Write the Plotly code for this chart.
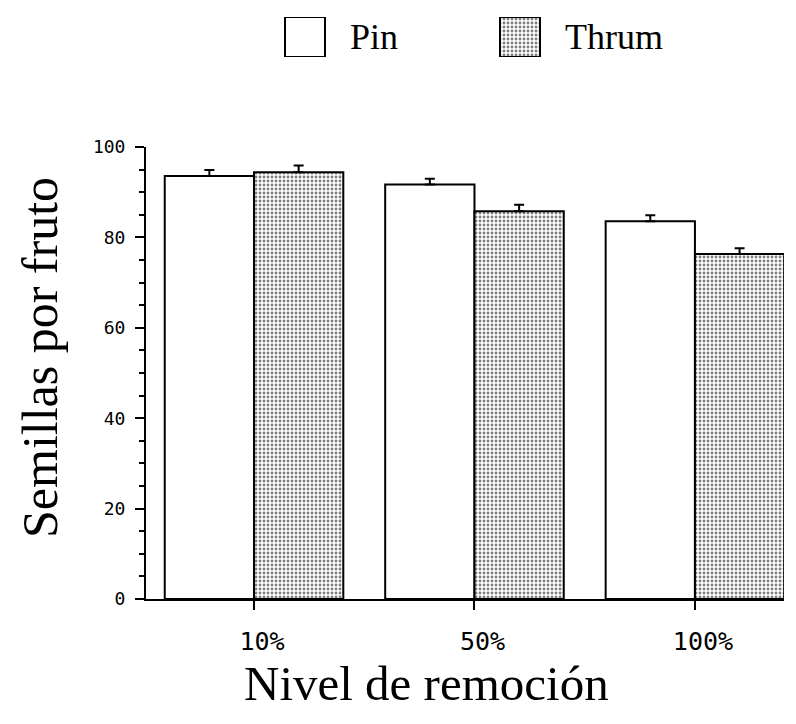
import plotly.graph_objects as go

categories = ["10%", "50%", "100%"]
pin_values = [93.6, 91.7, 83.6]
thrum_values = [94.4, 85.8, 76.3]
pin_errors = [1.3, 1.3, 1.3]
thrum_errors = [1.5, 1.4, 1.3]
series_names = ["Pin", "Thrum"]
y_ticks = [0, 20, 40, 60, 80, 100]
x_title = "Nivel de remoción"
y_title = "Semillas por fruto"

serif = "Liberation Serif, Times New Roman, serif"
mono = "DejaVu Sans Mono, monospace"

dots = dict(shape=".", fgcolor="black", bgcolor="white", size=4, solidity=0.4)
plain = dict(shape="")

fig = go.Figure()
fig.add_trace(go.Bar(
    x=categories, y=pin_values, name=series_names[0],
    marker=dict(color="white", line=dict(color="black", width=2)),
    error_y=dict(type="data", array=pin_errors, arrayminus=[0] * len(pin_errors),
                 symmetric=False, color="black", thickness=2, width=5),
    showlegend=False))
fig.add_trace(go.Bar(
    x=categories, y=thrum_values, name=series_names[1],
    marker=dict(color="white", line=dict(color="black", width=2), pattern=dots),
    error_y=dict(type="data", array=thrum_errors, arrayminus=[0] * len(thrum_errors),
                 symmetric=False, color="black", thickness=2, width=5),
    showlegend=False))

# custom legend (large swatches) drawn in a small auxiliary axis pair
for i, (nm, pat) in enumerate(zip(series_names, [plain, dots])):
    fig.add_trace(go.Bar(
        x=[i], y=[1], width=0.186, xaxis="x2", yaxis="y2",
        marker=dict(color="white", line=dict(color="black", width=2), pattern=pat),
        showlegend=False, hoverinfo="skip"))
    fig.add_annotation(x=i + 0.2, y=0.5, xref="x2", yref="y2", text=nm,
                       showarrow=False, xanchor="left", yanchor="middle",
                       font=dict(family=serif, size=36, color="black"))

# axis titles
fig.add_annotation(x=0.4397, y=-0.1443, xref="paper", yref="paper", text=x_title,
                   showarrow=False, xanchor="center", yanchor="middle",
                   font=dict(family=serif, size=49, color="black"))
fig.add_annotation(x=-0.1661, y=0.4092, xref="paper", yref="paper", text=y_title,
                   showarrow=False, xanchor="center", yanchor="middle", textangle=-90,
                   font=dict(family=serif, size=50, color="black"))

fig.update_layout(
    width=796, height=724,
    margin=dict(l=146, r=12, t=10, b=125),
    paper_bgcolor="white", plot_bgcolor="white",
    barmode="group", bargap=0.19, bargroupgap=0,
    showlegend=False,
    xaxis=dict(
        range=[-0.49, 2.404], domain=[0, 1], automargin=False,
        showline=True, linecolor="black", linewidth=2,
        ticks="outside", ticklen=9, tickwidth=2, tickcolor="black",
        showgrid=False, zeroline=False,
        tickfont=dict(family=mono, size=25, color="black"),
        ticklabelstandoff=10, ticklabelshift=8,
    ),
    yaxis=dict(
        range=[0, 100], domain=[0, 0.7674], automargin=False,
        showline=True, linecolor="black", linewidth=2,
        tickvals=y_ticks,
        ticks="outside", ticklen=9, tickwidth=2, tickcolor="black",
        minor=dict(dtick=5, ticks="outside", ticklen=5, tickwidth=2, tickcolor="black"),
        showgrid=False, zeroline=False,
        tickfont=dict(family=mono, size=18, color="black"),
        ticklabelstandoff=6,
    ),
    xaxis2=dict(domain=[0, 1], anchor="y2", range=[-0.7395, 2.2279], visible=False,
                fixedrange=True, automargin=False),
    yaxis2=dict(domain=[0.9202, 0.9881], anchor="x2", range=[0, 1], visible=False,
                fixedrange=True, automargin=False),
)

fig.write_html("out.html")
